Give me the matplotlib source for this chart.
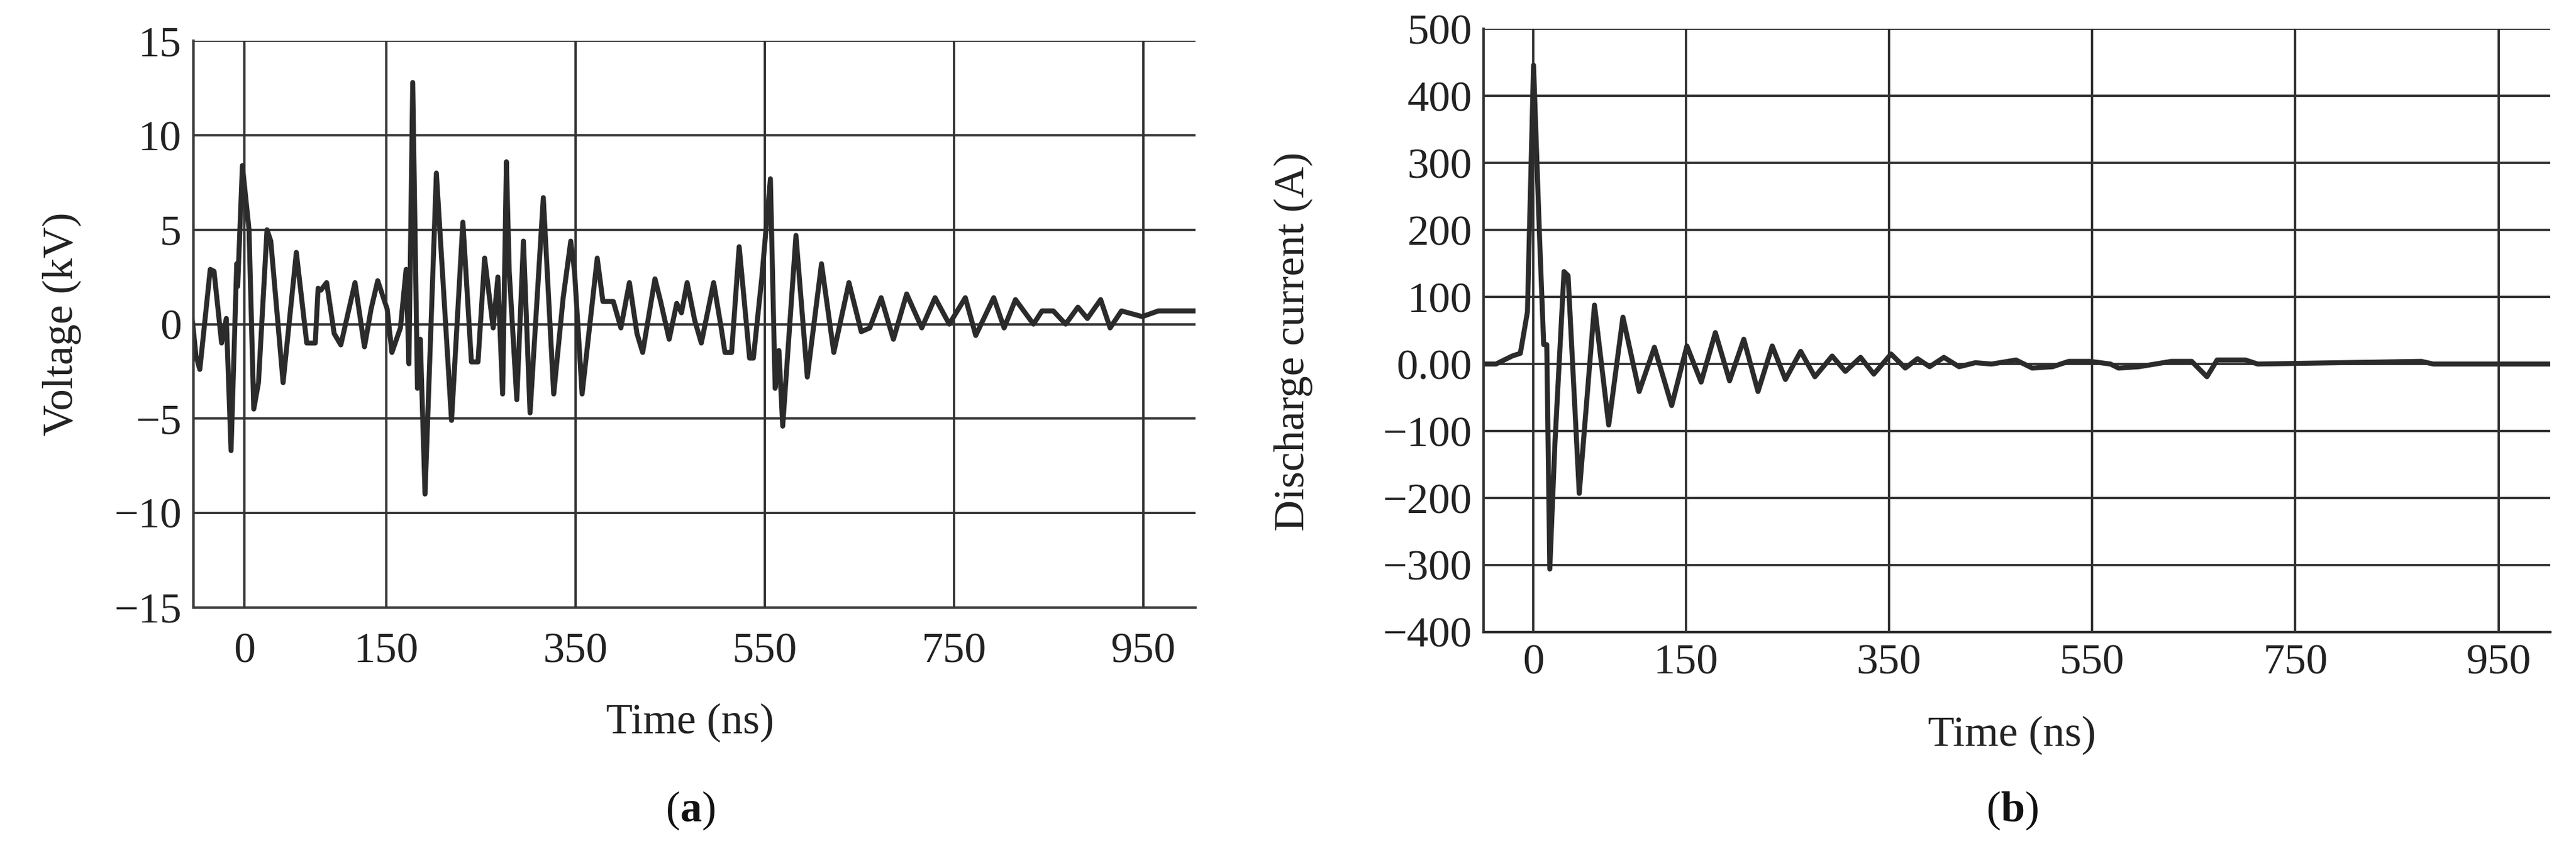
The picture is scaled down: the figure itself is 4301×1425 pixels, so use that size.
import matplotlib
matplotlib.use("Agg")
import matplotlib.pyplot as plt

plt.rcParams['font.family'] = ['Liberation Serif', 'DejaVu Serif']
plt.rcParams['mathtext.fontset'] = 'custom'
plt.rcParams['mathtext.rm'] = 'Liberation Serif'
plt.rcParams['mathtext.bf'] = 'Liberation Serif:bold'

# Panel (a): voltage waveform
t_a = [-59, -51, -47, -36, -32, -24, -19, -14, -8, -7, -2, 5, 10, 15, 24, 28, 41, 55, 66, 75, 78, 81, 87, 95,
       102, 117, 127, 134, 141, 151, 156, 165, 171, 174, 178, 183, 186, 191, 203, 219, 231, 240, 247, 254,
       263, 268, 273, 277, 280, 288, 295, 302, 316, 327, 337, 345, 349, 357, 373, 379, 390, 398, 407, 415,
       421, 434, 440, 449, 457, 462, 468, 476, 483, 496, 504, 508, 515, 523, 534, 538, 547, 556, 561, 565,
       569, 583, 595, 610, 623, 639, 652, 661, 673, 686, 700, 716, 730, 745, 762, 773, 792, 803, 815, 834,
       843, 855, 868, 881, 891, 905, 915, 927, 949, 966, 1004]
v_a = [2.2, -1.7, -2.4, 2.9, 2.8, -1.0, 0.3, -6.7, 3.2, 2.0, 8.4, 5.0, -4.5, -3.1, 5.0, 4.4, -3.1, 3.8, -1.0,
       -1.0, 1.9, 1.8, 2.2, -0.5, -1.1, 2.2, -1.2, 0.8, 2.3, 0.8, -1.5, -0.2, 2.9, -2.1, 12.8, -3.4, -0.8,
       -9.0, 8.0, -5.1, 5.4, -2.0, -2.0, 3.5, -0.2, 2.5, -3.7, 8.6, 2.8, -4.0, 4.4, -4.7, 6.7, -3.7, 1.4,
       4.4, 2.8, -3.7, 3.5, 1.2, 1.2, -0.2, 2.2, -0.5, -1.5, 2.4, 1.2, -0.8, 1.1, 0.6, 2.2, 0.2, -1.0, 2.2,
       -0.2, -1.5, -1.5, 4.1, -1.8, -1.8, 2.5, 7.7, -3.4, -1.4, -5.4, 4.7, -2.8, 3.2, -1.5, 2.2, -0.4, -0.2,
       1.4, -0.8, 1.6, -0.2, 1.4, 0.0, 1.4, -0.6, 1.4, -0.2, 1.3, 0.0, 0.7, 0.7, 0.0, 0.9, 0.3, 1.3, -0.2,
       0.7, 0.4, 0.7, 0.7]

# Panel (b): discharge current
t_b = [-53, -37, -21, -13, -6, 0, 6, 10, 13, 16, 21, 30, 34, 45, 60, 74, 88, 104, 119, 136, 151, 165, 179,
       193, 207, 221, 235, 248, 263, 277, 294, 307, 322, 335, 352, 366, 378, 390, 404, 419, 435, 451, 475,
       491, 511, 527, 548, 568, 576, 596, 628, 648, 663, 673, 701, 713, 874, 886, 1007]
i_b = [0, 0, 12, 16, 78, 446, 186, 29, 29, -306, -120, 138, 132, -193, 88, -91, 70, -41, 25, -62, 27, -27,
       47, -25, 37, -41, 27, -23, 19, -19, 12, -11, 10, -15, 15, -6, 8, -4, 10, -4, 2, 0, 6, -6, -4, 4, 4,
       0, -6, -4, 4, 4, -19, 6, 6, 0, 4, 0, 0]

xticks = [0, 150, 350, 550, 750, 950]
yticks_a = [-15, -10, -5, 0, 5, 10, 15]
yticks_b = [-400, -300, -200, -100, 0, 100, 200, 300, 400, 500]
ylabels_b = ['\u2212400', '\u2212300', '\u2212200', '\u2212100', '0.00', '100', '200', '300', '400', '500']

fig = plt.figure(figsize=(43.01, 14.25), dpi=100)
ax1 = fig.add_axes([0.075, 0.288, 0.389, 0.664])
ax2 = fig.add_axes([0.576, 0.259, 0.414, 0.707])

lc = '#2b2b2b'
gc = '#333333'
fs = 52

def style(ax):
    for s in ['top', 'right']:
        ax.spines[s].set_visible(False)
    for s in ['left', 'bottom']:
        ax.spines[s].set_color(gc)
        ax.spines[s].set_linewidth(3)
    ax.grid(True, color=gc, linewidth=2.8)
    ax.set_axisbelow(True)
    ax.tick_params(length=0, labelsize=fs, colors='#222222', pad=14)
    ax.set_xticks(xticks)

ax1.plot(t_a, v_a, color=lc, linewidth=6, solid_joinstyle='round')
style(ax1)
ax1.set_xlim(-54, 1005)
ax1.set_ylim(-15, 15)
ax1.set_yticks(yticks_a)
ax1.set_yticklabels([str(v).replace('-', '\u2212') for v in yticks_a])
ax1.tick_params(axis='x', pad=30)

ax2.plot(t_b, i_b, color=lc, linewidth=6, solid_joinstyle='round')
style(ax2)
ax2.set_xlim(-49, 1001)
ax2.set_ylim(-400, 500)
ax2.set_yticks(yticks_b)
ax2.set_yticklabels(ylabels_b)

fig.text(0.024, 0.62, 'Voltage (kV)', rotation=90, ha='center', va='center', fontsize=fs, color='#222222')
fig.text(0.502, 0.60, 'Discharge current (A)', rotation=90, ha='center', va='center', fontsize=fs, color='#222222')
fig.text(0.268, 0.153, 'Time (ns)', ha='center', va='center', fontsize=fs, color='#222222')
fig.text(0.781, 0.138, 'Time (ns)', ha='center', va='center', fontsize=fs, color='#222222')
fig.text(0.268, 0.05, r'($\mathbf{a}$)', ha='center', va='center', fontsize=fs, color='#111111')
fig.text(0.781, 0.05, r'($\mathbf{b}$)', ha='center', va='center', fontsize=fs, color='#111111')

fig.savefig('out.png', dpi=100, facecolor='white')
